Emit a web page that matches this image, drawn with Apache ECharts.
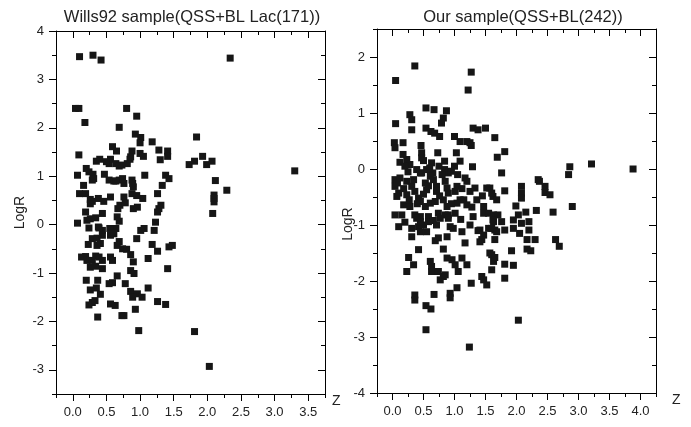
<!DOCTYPE html>
<html>
<head>
<meta charset="utf-8">
<script src="https://cdn.jsdelivr.net/npm/echarts@6/dist/echarts.min.js"></script>
<style>
  html, body { margin: 0; padding: 0; background: #fff; }
  #cnv { width: 691px; height: 427px; }
</style>
</head>
<body>
<div id="cnv"></div>
<script>
// [z, logR]
var wills92Points = [
  [0.10, 3.47], [0.30, 3.50], [0.42, 3.40], [2.34, 3.44], [0.04, 2.40], [0.09, 2.40], [0.80, 2.40], [0.95, 2.24],
  [0.18, 2.11], [0.69, 2.01], [0.93, 1.87], [1.01, 1.80], [1.00, 1.69], [1.18, 1.71], [1.84, 1.81], [0.09, 1.44],
  [0.59, 1.61], [0.65, 1.52], [0.88, 1.52], [1.00, 1.47], [1.05, 1.41], [1.28, 1.54], [1.41, 1.52], [1.41, 1.41],
  [1.30, 1.34], [0.35, 1.31], [0.40, 1.35], [0.54, 1.26], [0.56, 1.35], [0.64, 1.26], [0.69, 1.21], [0.73, 1.23],
  [0.81, 1.26], [0.85, 1.35], [0.86, 1.40], [1.73, 1.24], [1.81, 1.31], [1.93, 1.41], [1.99, 1.24], [2.07, 1.31],
  [2.12, 0.91], [2.29, 0.71], [2.10, 0.61], [0.07, 1.02], [0.20, 1.16], [0.24, 1.09], [0.30, 1.04], [0.29, 0.92],
  [0.16, 0.81], [0.10, 0.64], [0.19, 0.64], [0.47, 1.04], [0.54, 0.92], [0.61, 0.90], [0.69, 0.92], [0.76, 0.85],
  [0.74, 0.95], [0.88, 0.92], [0.90, 0.78], [0.88, 0.64], [1.07, 1.02], [1.38, 1.02], [1.43, 0.95], [1.33, 0.81],
  [1.26, 0.64], [1.04, 0.54], [0.76, 0.57], [0.56, 0.57], [0.38, 0.54], [0.26, 0.52], [0.29, 0.48], [0.46, 0.48],
  [0.89, 0.85], [0.07, 0.03], [0.19, 0.26], [0.26, 0.43], [0.44, 0.23], [0.66, 0.16], [0.67, 0.33], [0.70, 0.40],
  [0.90, 0.33], [0.96, 0.36], [1.26, 0.26], [1.28, 0.33], [1.31, 0.40], [1.23, 0.05], [2.10, 0.54], [2.08, 0.23],
  [2.10, 0.47], [0.21, 0.09], [0.26, 0.12], [0.34, 0.14], [0.24, -0.07], [0.38, -0.05], [0.69, 0.07], [0.64, -0.08],
  [0.55, -0.08], [1.21, -0.12], [1.06, -0.08], [1.01, -0.12], [0.95, -0.29], [0.29, -0.29], [0.36, -0.28], [0.44, -0.22],
  [0.41, -0.39], [0.36, -0.43], [0.23, -0.41], [0.44, -0.12], [0.39, -0.07], [0.56, -0.22], [0.61, -0.19], [0.69, -0.35],
  [0.66, -0.43], [0.74, -0.50], [0.80, -0.51], [0.86, -0.62], [1.18, -0.41], [1.26, -0.55], [1.43, -0.46], [1.48, -0.43],
  [0.13, -0.67], [0.19, -0.66], [0.21, -0.74], [0.29, -0.74], [0.34, -0.65], [0.39, -0.67], [0.44, -0.74], [0.26, -0.88],
  [0.34, -0.86], [0.44, -0.91], [0.56, -0.67], [0.59, -0.74], [0.90, -0.77], [1.12, -0.70], [1.41, -0.91], [0.86, -0.95],
  [0.91, -1.01], [0.20, -1.15], [0.37, -1.15], [0.66, -1.06], [0.59, -1.20], [0.54, -1.22], [0.78, -1.22], [0.26, -1.35],
  [0.35, -1.31], [0.41, -1.44], [0.86, -1.38], [0.96, -1.43], [0.89, -1.50], [1.03, -1.50], [1.12, -1.31], [0.24, -1.66],
  [0.29, -1.61], [0.33, -1.57], [0.56, -1.64], [0.63, -1.67], [1.26, -1.59], [1.38, -1.65], [0.93, -1.75], [0.37, -1.91],
  [0.73, -1.88], [0.76, -1.88], [0.98, -2.19], [1.81, -2.21], [2.03, -2.93], [3.30, 1.11], [0.31, 0.95], [0.50, 1.30],
  [0.64, 0.90], [0.78, 0.45], [0.95, 0.60]
];

var ourPoints = [
  [0.05, 1.58], [0.36, 1.84], [1.27, 1.73], [1.22, 1.41], [0.05, 0.81], [0.28, 0.97], [0.31, 0.88], [0.31, 0.70],
  [0.54, 1.09], [0.67, 1.06], [0.87, 1.04], [0.82, 0.91], [0.79, 0.82], [0.54, 0.73], [0.62, 0.67], [0.68, 0.64],
  [0.76, 0.58], [1.00, 0.58], [1.09, 0.49], [1.25, 0.47], [1.27, 0.42], [1.30, 0.73], [1.38, 0.70], [1.50, 0.73],
  [1.65, 0.56], [1.81, 0.31], [1.69, 0.21], [1.76, -0.07], [0.03, 0.47], [0.17, 0.47], [0.04, 0.38], [0.46, 0.42],
  [0.47, 0.29], [0.47, 0.20], [0.17, 0.26], [0.23, 0.17], [0.28, 0.08], [0.73, 0.29], [0.84, 0.14], [1.03, 0.29],
  [1.09, 0.14], [0.39, -0.01], [0.47, -0.07], [0.55, -0.01], [0.63, 0.11], [0.65, -0.07], [0.84, -0.01], [0.90, -0.07],
  [0.95, -0.04], [1.00, 0.05], [1.29, 0.04], [2.86, 0.04], [2.84, -0.10], [3.21, 0.09], [3.88, 0.00], [2.35, -0.19],
  [2.37, -0.22], [2.46, -0.31], [2.46, -0.42], [2.54, -0.46], [2.08, -0.31], [2.08, -0.43], [2.08, -0.52], [2.59, -0.77],
  [2.90, -0.67], [2.32, -0.74], [2.15, -0.77], [1.99, -0.66], [1.20, 0.49], [1.81, -0.39], [1.57, -0.34], [1.62, -0.49],
  [1.68, -0.55], [0.04, -0.19], [0.04, -0.31], [0.10, -0.43], [0.07, -0.49], [0.12, -0.16], [0.23, -0.22], [0.23, -0.46],
  [0.31, -0.31], [0.34, -0.19], [0.36, -0.40], [0.42, -0.52], [0.45, -0.07], [0.53, -0.25], [0.55, -0.37], [0.61, -0.13],
  [0.60, 0.02], [0.66, -0.19], [0.71, -0.31], [0.71, -0.40], [0.80, -0.10], [0.85, -0.22], [0.88, -0.34], [0.90, -0.43],
  [1.05, -0.10], [1.01, -0.40], [1.04, -0.31], [1.09, -0.55], [1.17, -0.16], [1.20, -0.22], [1.25, -0.40], [1.33, -0.34],
  [1.36, -0.55], [1.52, -0.34], [1.60, -0.43], [1.45, -0.48], [0.18, -0.64], [0.28, -0.67], [0.45, -0.58], [0.53, -0.67],
  [0.61, -0.61], [0.69, -0.58], [0.82, -0.55], [0.88, -0.67], [1.04, -0.61], [1.15, -0.55], [1.20, -0.64], [1.47, -0.67],
  [0.04, -0.82], [0.15, -0.82], [0.36, -0.82], [0.45, -0.85], [0.58, -0.85], [0.74, -0.79], [0.85, -0.82], [0.90, -0.82],
  [1.01, -0.79], [1.47, -0.79], [1.55, -0.79], [1.63, -0.82], [0.10, -1.03], [0.31, -1.06], [0.31, -1.21], [0.42, -1.03],
  [0.45, -1.12], [0.50, -1.00], [0.55, -1.12], [0.58, -0.94], [0.45, -0.94], [0.39, -0.88], [0.71, -1.00], [0.77, -0.88],
  [0.90, -0.88], [0.93, -1.03], [0.98, -1.06], [1.12, -1.12], [1.25, -1.00], [1.41, -1.09], [1.47, -1.18], [1.44, -1.26],
  [1.55, -1.06], [1.63, -0.94], [1.65, -1.26], [1.65, -1.09], [0.69, -1.28], [0.74, -1.23], [0.88, -1.21], [1.17, -1.32],
  [1.41, -1.30], [0.42, -1.44], [0.82, -1.43], [0.26, -1.58], [0.34, -1.71], [0.23, -1.83], [0.61, -1.65], [0.63, -1.74],
  [0.63, -1.83], [0.74, -1.83], [0.77, -1.98], [0.88, -1.59], [0.96, -1.62], [1.01, -1.71], [1.06, -1.83], [1.12, -1.59],
  [1.20, -1.71], [0.82, -1.92], [0.85, -1.89], [1.04, -2.12], [1.27, -2.04], [1.44, -1.92], [1.47, -1.98], [1.52, -2.07],
  [1.57, -1.50], [1.63, -1.65], [1.60, -1.80], [0.36, -2.25], [0.36, -2.34], [0.67, -2.24], [0.93, -2.22], [0.93, -2.30],
  [0.54, -2.44], [0.62, -2.50], [0.54, -2.87], [1.24, -3.18], [1.70, -0.82], [2.03, -0.82], [1.62, -0.91], [1.76, -0.94],
  [1.95, -0.91], [2.08, -0.97], [2.20, -0.94], [1.60, -1.06], [1.68, -1.12], [1.81, -1.09], [1.95, -1.06], [2.05, -1.15],
  [2.20, -1.09], [2.17, -1.26], [2.30, -1.26], [2.63, -1.26], [2.69, -1.38], [1.92, -1.46], [2.17, -1.43], [2.23, -1.46],
  [1.60, -1.53], [1.65, -1.58], [1.81, -1.70], [1.95, -1.72], [1.81, -1.95], [2.03, -2.70], [0.08, -0.25], [0.18, -0.35],
  [0.27, -0.55], [0.50, -0.45], [0.58, -0.30], [0.76, -0.48], [0.95, -0.62], [1.12, -0.35], [1.28, -0.68], [0.20, -0.95],
  [0.66, -0.92], [1.10, -0.90], [1.30, -0.85], [0.12, 0.12], [0.20, 0.05], [0.50, 0.15], [0.75, 0.05], [0.40, -0.62],
  [1.38, -1.10], [0.25, -0.05]
];

// major tick labels
var wills92XTicks = [0, 0.5, 1, 1.5, 2, 2.5, 3, 3.5];
var wills92YTicks = [-3, -2, -1, 0, 1, 2, 3, 4];
var ourXTicks = [0, 0.5, 1, 1.5, 2, 2.5, 3, 3.5, 4];
var ourYTicks = [-4, -3, -2, -1, 0, 1, 2];

var font = 'Liberation Sans, Arial, sans-serif';
var black = '#000';

// minor ticks sit halfway between major ones
function halves(ticks, min, max) {
  var step = ticks[1] - ticks[0];
  var out = [];
  for (var v = ticks[0] - step / 2; v <= max + 1e-9; v += step) {
    if (v >= min - 1e-9) out.push(+v.toFixed(3));
  }
  return out;
}

function axisSet(dim, grid, min, max, ticks, name) {
  var minor = halves(ticks, min, max);
  var posA = dim === 'x' ? 'bottom' : 'left';
  var posB = dim === 'x' ? 'top' : 'right';
  var base = function (pos, inside, vals, len, showLine) {
    return {
      type: 'value', gridIndex: grid, position: pos, min: min, max: max,
      splitLine: { show: false },
      axisLine: { show: showLine, onZero: false, lineStyle: { color: black, width: 1 } },
      axisTick: { show: true, inside: inside, length: len, customValues: vals, lineStyle: { color: black, width: 1 } },
      axisLabel: { show: false }
    };
  };
  var main = base(posA, false, ticks, 7, true);
  main.axisLabel = {
    show: true, customValues: ticks, margin: 12, fontSize: 13, color: '#222', fontFamily: font,
    formatter: function (v) { return dim === 'x' ? v.toFixed(1) : String(v); }
  };
  if (name) {
    main.name = name.text;
    main.nameLocation = name.loc;
    main.nameGap = name.gap;
    main.nameMoveOverlap = false;
    main.nameTextStyle = { fontSize: 14, color: '#222', fontFamily: font, padding: name.pad || 0 };
    if (name.valign) main.nameTextStyle.verticalAlign = name.valign;
  }
  return [
    main,
    base(posA, false, minor, 4, false),
    base(posB, true, ticks, 7, true),
    base(posB, true, minor, 4, false)
  ];
}

var main = document.getElementById('cnv');
var myechart = echarts.init(main, null, { renderer: 'canvas' });

var xAxes = axisSet('x', 0, -0.25, 3.75, wills92XTicks, { text: 'Z', loc: 'end', gap: 7, valign: 'top' })
  .concat(axisSet('x', 1, -0.25, 4.25, ourXTicks, { text: 'Z', loc: 'end', gap: 16, valign: 'top' }));
var yAxes = axisSet('y', 0, -3.5, 4, wills92YTicks, { text: 'LogR', loc: 'middle', gap: 29 })
  .concat(axisSet('y', 1, -4, 2.5, ourYTicks, { text: 'LogR', loc: 'middle', gap: 22, pad: [0, 26, 0, 0] }));

var option = {
  animation: false,
  backgroundColor: '#fff',
  title: [
    { text: 'Wills92 sample(QSS+BL Lac(171))', left: 187, top: 4, textAlign: 'center',
      textStyle: { fontSize: 16.5, fontWeight: 'normal', color: '#222', fontFamily: font } },
    { text: 'Our sample(QSS+BL(242))', left: 518, top: 4, textAlign: 'center',
      textStyle: { fontSize: 16.5, fontWeight: 'normal', color: '#222', fontFamily: font } }
  ],
  grid: [
    { left: 56, top: 31, width: 269, height: 363 },
    { left: 377, top: 29, width: 279, height: 364 }
  ],
  xAxis: xAxes,
  yAxis: yAxes,
  series: [
    { type: 'scatter', xAxisIndex: 0, yAxisIndex: 0, symbol: 'rect', symbolSize: 7,
      itemStyle: { color: '#161616', opacity: 1 }, data: wills92Points },
    { type: 'scatter', xAxisIndex: 4, yAxisIndex: 4, symbol: 'rect', symbolSize: 7,
      itemStyle: { color: '#161616', opacity: 1 }, data: ourPoints }
  ]
};
myechart.setOption(option);
</script>
</body>
</html>
